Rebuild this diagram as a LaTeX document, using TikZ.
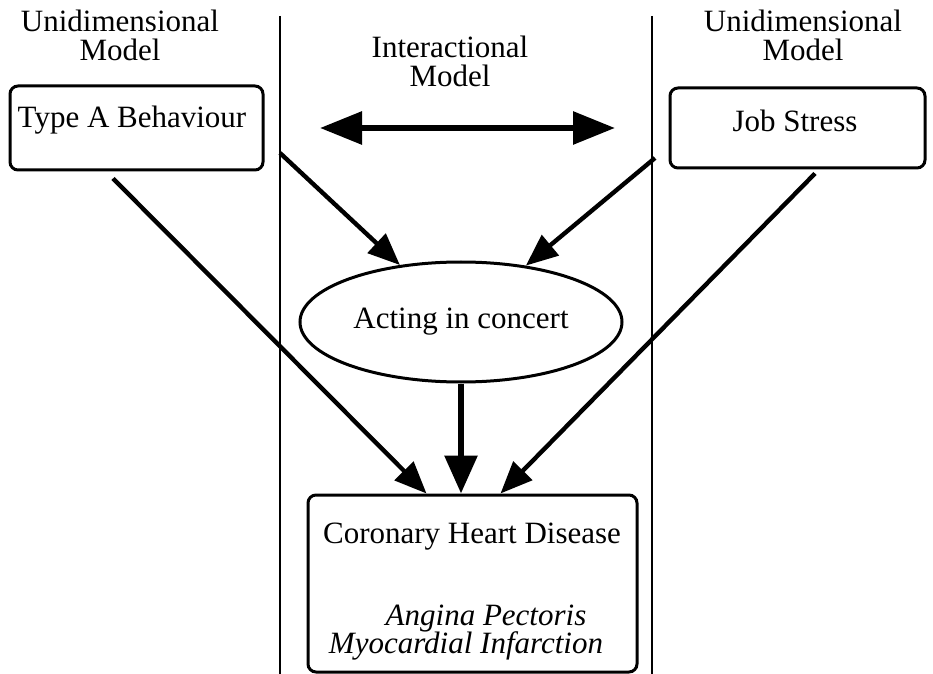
\documentclass[tikz,border=0pt]{standalone}
\usepackage{fontspec}
\setmainfont{Liberation Serif}
\newfontfamily\diagfont{Liberation Serif}
\usetikzlibrary{arrows.meta,shapes.geometric}
\begin{document}
\begin{tikzpicture}[x=0.5pt, y=-0.5pt,
  txt/.style={font=\diagfont\fontsize{15.5}{14.5}\selectfont, inner sep=0pt, align=center},
  model box/.style={draw, line width=1.5pt, rounded corners=4pt, inner sep=0pt},
  concert node/.style={ellipse, draw, line width=1.5pt, minimum width=161pt, minimum height=60pt, inner sep=0pt, font=\diagfont\fontsize{15.5}{14.5}\selectfont},
  main arrow/.style={line width=2.2pt, -{Triangle[length=16pt,width=13pt]}},
  both arrow/.style={line width=3pt, {Triangle[length=21pt,width=16pt]}-{Triangle[length=21pt,width=16pt]}},
  divider/.style={line width=0.8pt}]
\useasboundingbox (0,0) rectangle (933,674);

% column dividers
\coordinate (ltop) at (280,16);
\coordinate (lbot) at (280,674);
\coordinate (rtop) at (652,16);
\coordinate (rbot) at (652,674);
\draw[divider] (ltop) -- (lbot);
\draw[divider] (rtop) -- (rbot);

% headings
\node[txt] (uniL) at (120,35) {Unidimensional\\Model};
\node[txt] (inter) at (450,61) {Interactional\\Model};
\node[txt] (uniR) at (803,35) {Unidimensional\\Model};

% boxes
\node[model box, minimum width=126.5pt, minimum height=42pt] (typeA) at (136.5,128) {};
\node[txt, anchor=base] (typeAlbl) at (132,128) {Type A Behaviour};
\node[model box, minimum width=127.5pt, minimum height=40pt] (job) at (797.5,128) {};
\node[txt, anchor=base] (joblbl) at (795,132) {Job Stress};
\node[concert node] (act) at (461,322) {Acting in concert};
\node[model box, minimum width=164.5pt, minimum height=88.5pt] (chd) at (472.5,583.5) {};
\node[txt, anchor=base] (chdlbl) at (472,543) {Coronary Heart Disease};
\node[txt, anchor=base, font=\diagfont\fontsize{15.5}{14.5}\selectfont\itshape] (angina) at (486,625) {Angina Pectoris};
\node[txt, anchor=base, font=\diagfont\fontsize{15.5}{14.5}\selectfont\itshape] (myo) at (466,653) {Myocardial Infarction};

% arrows
\coordinate (sL) at (280,153);
\coordinate (sR) at (655,158);
\coordinate (dL) at (320,128);
\coordinate (dR) at (615,128);
\draw[both arrow] (dL) -- (dR);
\draw[main arrow] (sL) -- (act.137);
\draw[main arrow] (sR) -- (act.41);
\draw[main arrow] ([xshift=-11.75pt,yshift=-3.5pt]typeA.south) -- ([xshift=60pt]chd.north west);
\draw[main arrow] ([xshift=8.75pt,yshift=-2pt]job.south) -- ([xshift=97pt]chd.north west);
\draw[main arrow, line width=3pt, -{Triangle[length=19pt,width=16pt]}] (act.south) -- (act.south |- chd.north);
\end{tikzpicture}
\end{document}
